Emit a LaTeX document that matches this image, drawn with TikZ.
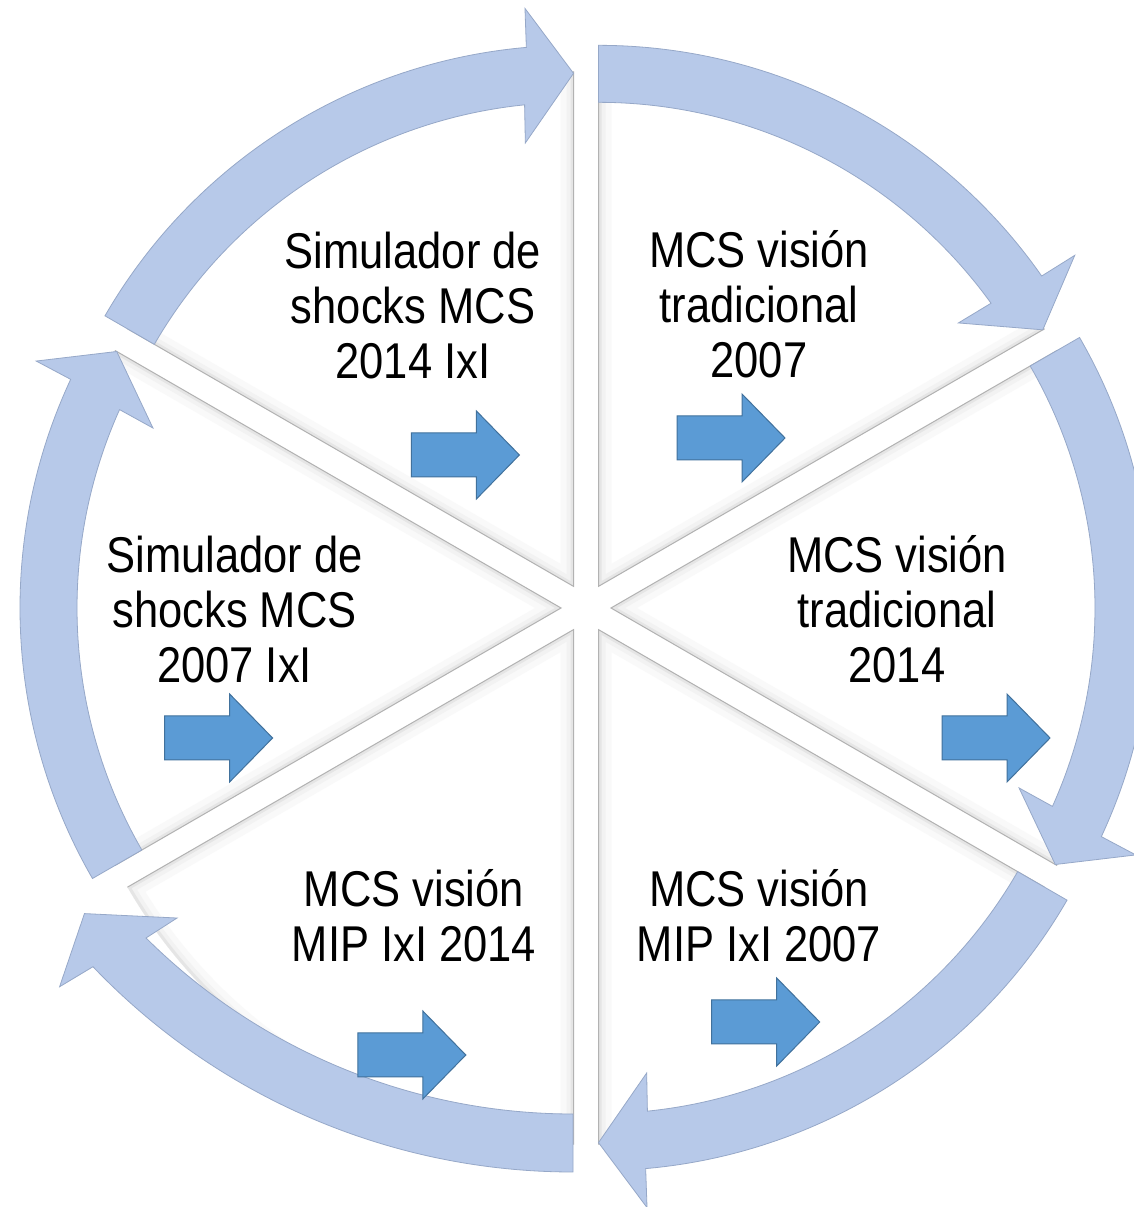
\documentclass[tikz,border=0pt]{standalone}
\usepackage{fontspec}
\newfontfamily\labelfont[FakeStretch=0.865]{Liberation Sans}
\usetikzlibrary{calc}
\definecolor{ringfill}{RGB}{183,201,233}
\definecolor{ringedge}{RGB}{150,168,200}
\definecolor{blkfill}{RGB}{91,155,213}
\definecolor{blkedge}{RGB}{65,113,156}
\tikzset{
  ringstyle/.style={fill=ringfill,draw=ringedge,line width=0.8},
  blkstyle/.style={fill=blkfill,draw=blkedge,line width=1},
  lbl/.style={font=\labelfont\fontsize{50.3}{55}\selectfont,inner sep=0,align=center,anchor=base},
  blk/.pic={\filldraw[blkstyle] (0,-22) -- (65,-22) -- (65,-44) -- (108,0) -- (65,44) -- (65,22) -- (0,22) -- cycle;}
}
\newcommand\pieseg[3]{%
  \begin{scope}[shift={(#1)}]
    \begin{scope}
      \clip (0,0) -- (#2:515) arc[start angle=#2,end angle=#3,radius=515] -- cycle;
      \fill[white] (0,0) circle[radius=520];
      \draw[line width=26,gray!5] (0,0) -- (#2:515) arc[start angle=#2,end angle=#3,radius=515] -- cycle;
      \draw[line width=14,gray!10] (0,0) -- (#2:515) arc[start angle=#2,end angle=#3,radius=515] -- cycle;
      \draw[line width=6,gray!20] (0,0) -- (#2:515) arc[start angle=#2,end angle=#3,radius=515] -- cycle;
    \end{scope}
    \draw[gray!60,line width=1] (#2:515) -- (0,0) -- (#3:515);
  \end{scope}}
\newcommand\ringarr[3]{%
  \begin{scope}[shift={(#1)}]
    \filldraw[ringstyle] (#2:541) arc[start angle=#2,end angle={#3+5},radius=541]
      -- ({#3+4.8}:580) -- (#3:513) -- ({#3+6.2}:446) -- ({#3+5.8}:484)
      arc[start angle={#3+5.8},end angle=#2,radius=484] -- cycle;
  \end{scope}}
\begin{document}
\begin{tikzpicture}[x=1pt,y=1pt]
\useasboundingbox (0,0) rectangle (1133,1207);
\fill[white] (0,0) rectangle (1133,1207);
% exploded segment centres
\coordinate (c1) at (598.5,620.65); % top right
\coordinate (c2) at (611,599);      % right
\coordinate (c3) at (598.5,577.35); % bottom right
\coordinate (c4) at (573.5,577.35); % bottom left
\coordinate (c5) at (561,599);      % left
\coordinate (c6) at (573.5,620.65); % top left
\coordinate (cbig) at (573,699);    % centre of the enlarged bottom-left arc
% pie segments
\pieseg{c1}{30}{90}
\pieseg{c2}{-30}{30}
\pieseg{c3}{-90}{-30}
\pieseg{c4}{-150}{-90}
\pieseg{c5}{150}{210}
\pieseg{c6}{90}{150}
% ring arrows (clockwise)
\ringarr{c6}{150}{90}
\ringarr{c1}{90}{30}
\ringarr{c2}{30}{-30}
\ringarr{c3}{-30}{-90}
\ringarr{c5}{210}{150}
\begin{scope}[shift={(cbig)}]
  \filldraw[ringstyle] (270:664) arc[start angle=270,end angle=223.7,radius=664]
    -- (223.0:702) -- (219.7:635) -- (226.0:570) -- (225.2:606)
    arc[start angle=225.2,end angle=270,radius=606] -- cycle;
\end{scope}
% labels (anchored at the baseline of their last line)
\node[lbl] (t6) at (413,828) {Simulador de\\shocks MCS\\2014 IxI};
\node[lbl] (t1) at (759,829) {MCS visión\\tradicional\\2007};
\node[lbl] (t2) at (897,524) {MCS visión\\tradicional\\2014};
\node[lbl] (t3) at (759,245) {MCS visión\\MIP IxI 2007};
\node[lbl] (t5) at (234.5,524) {Simulador de\\shocks MCS\\2007 IxI};
\node[lbl] (t4) at (414,245) {MCS visión\\MIP IxI 2014};
% small block arrows
\pic at (411.4,752) {blk};
\pic at (677,769) {blk};
\pic at (942,469) {blk};
\pic at (711.7,185) {blk};
\pic at (164.6,469) {blk};
\pic at (357.8,152) {blk};
\end{tikzpicture}
\end{document}
